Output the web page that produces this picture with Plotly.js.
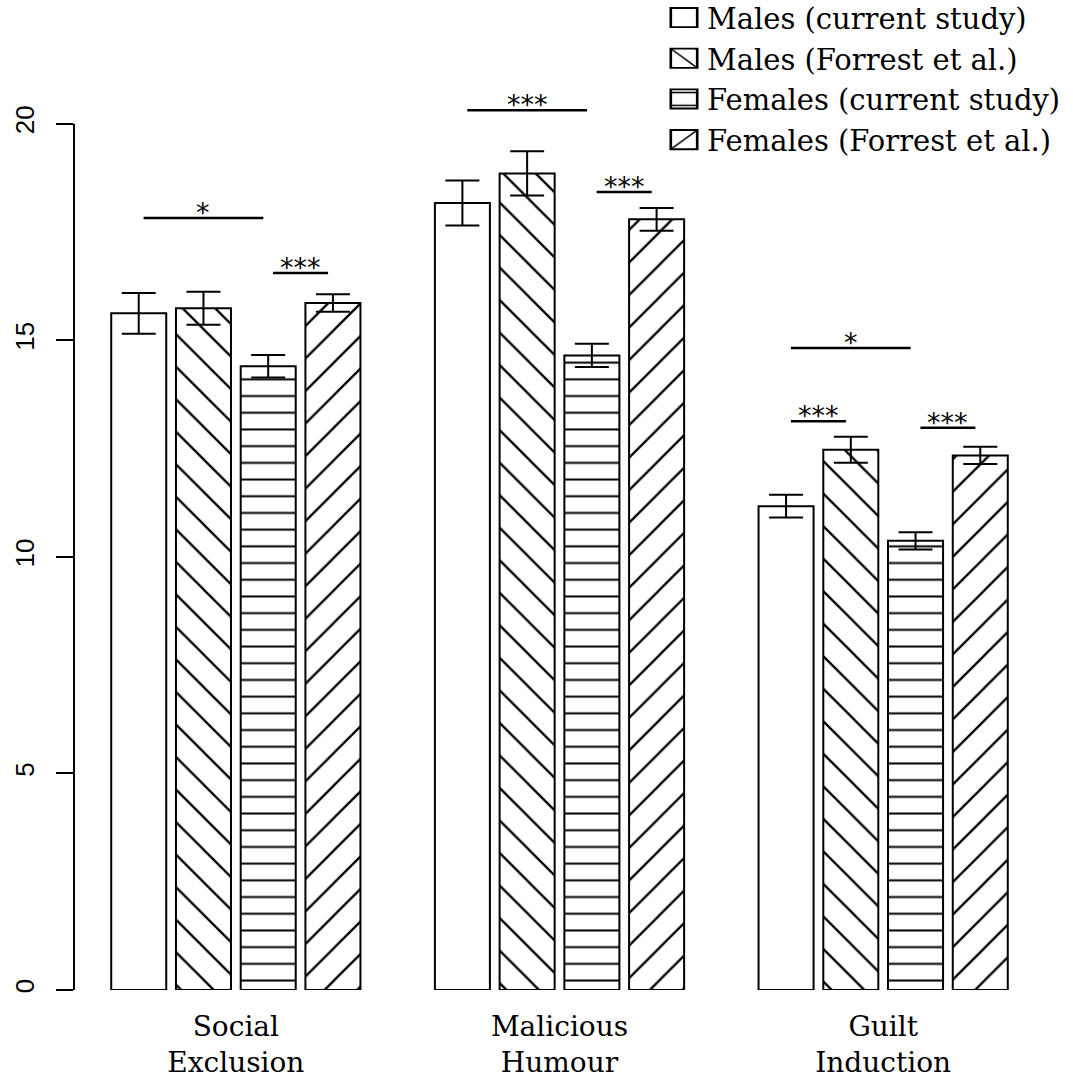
<!DOCTYPE html>
<html>
<head>
<meta charset="utf-8">
<script src="https://cdn.plot.ly/plotly-3.0.1.min.js"></script>
<style>html,body{margin:0;padding:0;background:#fff;}</style>
</head>
<body>
<div id="chart" style="width:1073px;height:1078px;"></div>
<script>
// ---- data ----
const categories = ['Social<br>Exclusion', 'Malicious<br>Humour', 'Guilt<br>Induction'];
const seriesNames = ['Males (current study)', 'Males (Forrest et al.)', 'Females (current study)', 'Females (Forrest et al.)'];
const malesCurrent = [15.62, 18.17, 11.17];
const malesCurrentErr = [0.47, 0.52, 0.26];
const malesForrest = [15.74, 18.85, 12.47];
const malesForrestErr = [0.38, 0.51, 0.30];
const femalesCurrent = [14.40, 14.65, 10.37];
const femalesCurrentErr = [0.26, 0.27, 0.20];
const femalesForrest = [15.86, 17.79, 12.34];
const femalesForrestErr = [0.20, 0.26, 0.20];
const yTicks = [0, 5, 10, 15, 20];
// significance brackets
const sigGroup = [0, 0, 1, 1, 2, 2, 2];
const sigFrom = [0, 2, 0, 2, 0, 0, 2];
const sigTo = [2, 3, 2, 3, 2, 1, 3];
const sigY = [17.82, 16.55, 20.31, 18.42, 14.82, 13.13, 12.98];
const sigLabel = ['*', '***', '***', '***', '*', '***', '***'];

// ---- styles ----
const values = [malesCurrent, malesForrest, femalesCurrent, femalesForrest];
const errs = [malesCurrentErr, malesForrestErr, femalesCurrentErr, femalesForrestErr];
const patterns = [
  {shape: ''},
  {shape: '\\', size: 23, solidity: 0.1},
  {shape: '-', size: 16.7, solidity: 0.12},
  {shape: '/', size: 23, solidity: 0.1}
];
const bargap = 0.2, bargroupgap = 0.15;
const nSeries = values.length;
const slot = (1 - bargap) / nSeries;

const traces = values.map((v, i) => ({
  type: 'bar',
  name: seriesNames[i],
  x: categories,
  y: v,
  marker: {
    color: 'white',
    line: {color: 'black', width: 2},
    pattern: Object.assign({fgcolor: 'black', bgcolor: 'white', fillmode: 'replace'}, patterns[i])
  },
  error_y: {type: 'data', array: errs[i], color: 'black', thickness: 2, width: 17},
  hoverinfo: 'skip'
}));

const inset = 0.015;
const shapes = [{
  type: 'line', xref: 'paper', yref: 'y', x0: 0, x1: 0,
  y0: yTicks[0], y1: yTicks[yTicks.length - 1],
  line: {color: 'black', width: 2}
}];
const annotations = [];
sigY.forEach((y, k) => {
  const x0 = sigGroup[k] + (sigFrom[k] - (nSeries - 1) / 2) * slot + inset;
  const x1 = sigGroup[k] + (sigTo[k] - (nSeries - 1) / 2) * slot - inset;
  shapes.push({type: 'line', xref: 'x', yref: 'y', x0: x0, x1: x1, y0: y, y1: y,
    line: {color: 'black', width: 2.5}});
  annotations.push({xref: 'x', yref: 'y', x: (x0 + x1) / 2, y: y, text: sigLabel[k],
    showarrow: false, yanchor: 'bottom', yshift: -12,
    font: {family: 'DejaVu Sans', size: 27, color: 'black'}});
});

const layout = {
  width: 1073, height: 1078,
  margin: {l: 74, r: 28, t: 37, b: 88, autoexpand: false},
  paper_bgcolor: 'white', plot_bgcolor: 'white',
  barmode: 'group', bargap: bargap, bargroupgap: bargroupgap,
  showlegend: true,
  legend: {
    xref: 'container', yref: 'paper', x: 661 / 1073, y: 1.047, xanchor: 'left', yanchor: 'top',
    font: {family: 'DejaVu Serif', size: 29, color: 'black'},
    bgcolor: 'rgba(0,0,0,0)', itemwidth: 36, tracegroupgap: 0
  },
  xaxis: {
    type: 'category', range: [-0.5, 2.5], showline: false, zeroline: false, showgrid: false,
    ticks: '', ticklabelstandoff: 17,
    tickfont: {family: 'DejaVu Serif', size: 28, color: 'black'}
  },
  yaxis: {
    range: [0, 22], tickvals: yTicks, ticktext: yTicks.map(String),
    showline: false, zeroline: false, showgrid: false,
    ticks: 'outside', ticklen: 17, tickwidth: 2, tickcolor: 'black',
    tickangle: -90, ticklabelstandoff: 12,
    tickfont: {family: 'Liberation Sans', size: 26, color: 'black'}
  },
  shapes: shapes,
  annotations: annotations
};

Plotly.newPlot('chart', traces, layout, {displayModeBar: false, staticPlot: true}).then(() => {
  document.querySelectorAll('.legend .legendpoints path').forEach(p => {
    const t = p.getAttribute('transform') || '';
    p.setAttribute('transform', t + ' scale(2.2,1.6)');
    p.style.strokeWidth = '1.2px';
  });
});
</script>
</body>
</html>
